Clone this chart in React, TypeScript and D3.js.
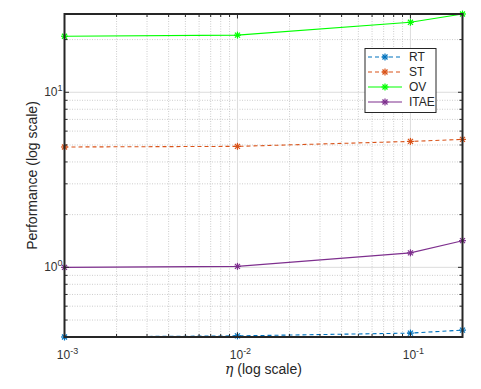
import React from 'react';
import * as d3 from 'd3';

// eta values (x) and the four performance series
const eta = [0.001, 0.01, 0.1, 0.2];
const rtValues = [0.4, 0.406, 0.421, 0.438];
const stValues = [4.87, 4.91, 5.24, 5.38];
const ovValues = [20.9, 21.2, 25.1, 28];
const itaeValues = [1.0, 1.013, 1.21, 1.42];

const xMajorTicks = [-3, -2, -1];
const yMajorTicks = [0, 1];

const seriesList = [
    { name: 'RT', values: rtValues, color: '#0072BD', dash: '4,3' },
    { name: 'ST', values: stValues, color: '#D95319', dash: '4,3' },
    { name: 'OV', values: ovValues, color: '#00FF00', dash: null },
    { name: 'ITAE', values: itaeValues, color: '#7E2F8E', dash: null },
];

const W = 481;
const H = 389;
const m = { left: 64.5, right: 18.5, top: 14, bottom: 52 };

const Star = ({ x, y, color }) => {
    const r = 3.5;
    const d = r * 0.72;
    return (
        <g stroke={color} strokeWidth={1.2}>
            <line x1={x - r} y1={y} x2={x + r} y2={y} />
            <line x1={x} y1={y - r} x2={x} y2={y + r} />
            <line x1={x - d} y1={y - d} x2={x + d} y2={y + d} />
            <line x1={x - d} y1={y + d} x2={x + d} y2={y - d} />
        </g>
    );
};

const App = () => {
    const x = d3.scaleLog().domain([0.001, 0.2]).range([m.left, W - m.right]);
    const y = d3.scaleLog().domain([0.4, 28]).range([H - m.bottom, m.top]);

    const x0 = m.left, x1 = W - m.right, y0 = H - m.bottom, y1 = m.top;

    const xMinor = [];
    for (let e = -3; e <= -1; e++) {
        for (let k = 2; k <= 9; k++) {
            const v = k * Math.pow(10, e);
            if (v <= 0.2 + 1e-9) xMinor.push(v);
        }
    }
    const yMinor = [];
    for (let e = -1; e <= 1; e++) {
        for (let k = 2; k <= 9; k++) {
            const v = k * Math.pow(10, e);
            if (v >= 0.4 - 1e-9 && v <= 28) yMinor.push(v);
        }
    }

    const line = d3.line().x(d => x(d[0])).y(d => y(d[1]));
    const font = 'Liberation Sans, Arial, sans-serif';
    const axisColor = '#262626';

    return (
        <svg width={W} height={H} style={{ position: 'absolute', left: 0, top: 0, background: '#fff' }}>
            <rect x={0} y={0} width={W} height={H} fill="#fff" />

            {/* minor grid */}
            {xMinor.map(v => (
                <line key={'gx' + v} x1={x(v)} x2={x(v)} y1={y0} y2={y1} stroke="#c0c0c0" strokeWidth={0.8} strokeDasharray="1,1.5" />
            ))}
            {yMinor.map(v => (
                <line key={'gy' + v} x1={x0} x2={x1} y1={y(v)} y2={y(v)} stroke="#c0c0c0" strokeWidth={0.8} strokeDasharray="1,1.5" />
            ))}
            {/* major grid */}
            {xMajorTicks.map(e => (
                <line key={'Gx' + e} x1={x(Math.pow(10, e))} x2={x(Math.pow(10, e))} y1={y0} y2={y1} stroke="#dcdcdc" strokeWidth={1} />
            ))}
            {yMajorTicks.map(e => (
                <line key={'Gy' + e} x1={x0} x2={x1} y1={y(Math.pow(10, e))} y2={y(Math.pow(10, e))} stroke="#dcdcdc" strokeWidth={1} />
            ))}

            {/* series */}
            {seriesList.map(s => {
                const pts = eta.map((e, i) => [e, s.values[i]]);
                return (
                    <g key={s.name}>
                        <path d={line(pts)} fill="none" stroke={s.color} strokeWidth={1.1} strokeDasharray={s.dash || undefined} />
                        {pts.map((p, i) => <Star key={i} x={x(p[0])} y={y(p[1])} color={s.color} />)}
                    </g>
                );
            })}

            {/* ticks */}
            <g stroke={axisColor} strokeWidth={1}>
                {xMinor.map(v => (
                    <g key={'tx' + v}>
                        <line x1={x(v)} x2={x(v)} y1={y0} y2={y0 - 3} />
                        <line x1={x(v)} x2={x(v)} y1={y1} y2={y1 + 3} />
                    </g>
                ))}
                {xMajorTicks.map(e => (
                    <g key={'TX' + e}>
                        <line x1={x(Math.pow(10, e))} x2={x(Math.pow(10, e))} y1={y0} y2={y0 - 4.5} />
                        <line x1={x(Math.pow(10, e))} x2={x(Math.pow(10, e))} y1={y1} y2={y1 + 4.5} />
                    </g>
                ))}
                {yMinor.map(v => (
                    <g key={'ty' + v}>
                        <line x1={x0} x2={x0 + 3} y1={y(v)} y2={y(v)} />
                        <line x1={x1} x2={x1 - 3} y1={y(v)} y2={y(v)} />
                    </g>
                ))}
                {yMajorTicks.map(e => (
                    <g key={'TY' + e}>
                        <line x1={x0} x2={x0 + 4.5} y1={y(Math.pow(10, e))} y2={y(Math.pow(10, e))} />
                        <line x1={x1} x2={x1 - 4.5} y1={y(Math.pow(10, e))} y2={y(Math.pow(10, e))} />
                    </g>
                ))}
            </g>

            {/* axes box */}
            <rect x={x0} y={y1} width={x1 - x0} height={y0 - y1} fill="none" stroke={axisColor} strokeWidth={2} />

            {/* tick labels */}
            <g fontFamily={font} fill="#333">
                {xMajorTicks.map(e => (
                    <text key={'lx' + e} x={x(Math.pow(10, e)) + 3} y={y0 + 22} fontSize={12} textAnchor="middle">
                        10<tspan fontSize={9} dy={-5}>{e}</tspan>
                    </text>
                ))}
                {yMajorTicks.map(e => (
                    <text key={'ly' + e} x={x0 - 2} y={y(Math.pow(10, e)) + 4} fontSize={12} textAnchor="end">
                        10<tspan fontSize={9} dy={-5}>{e}</tspan>
                    </text>
                ))}
            </g>

            {/* axis labels */}
            <text x={(x0 + x1) / 2} y={H - 15} fontFamily={font} fontSize={14} fill="#262626" textAnchor="middle">
                <tspan fontStyle="italic" fontFamily="DejaVu Serif, serif">η</tspan>{'  (log scale)'}
            </text>
            <text transform={`translate(37,${(y0 + y1) / 2}) rotate(-90)`} fontFamily={font} fontSize={14} fill="#262626" textAnchor="middle">
                Performance (log scale)
            </text>

            {/* legend */}
            <g transform="translate(365,48.5)">
                <rect x={0} y={0} width={71} height={64} fill="#fff" stroke={axisColor} strokeWidth={1} />
                {seriesList.map((s, i) => {
                    const ry = 8.5 + i * 15;
                    return (
                        <g key={s.name}>
                            <line x1={3} x2={37} y1={ry} y2={ry} stroke={s.color} strokeWidth={1.1} strokeDasharray={s.dash || undefined} />
                            <Star x={20} y={ry} color={s.color} />
                            <text x={44} y={ry + 4} fontFamily={font} fontSize={12} fill="#262626">{s.name}</text>
                        </g>
                    );
                })}
            </g>
        </svg>
    );
};

export default App;
